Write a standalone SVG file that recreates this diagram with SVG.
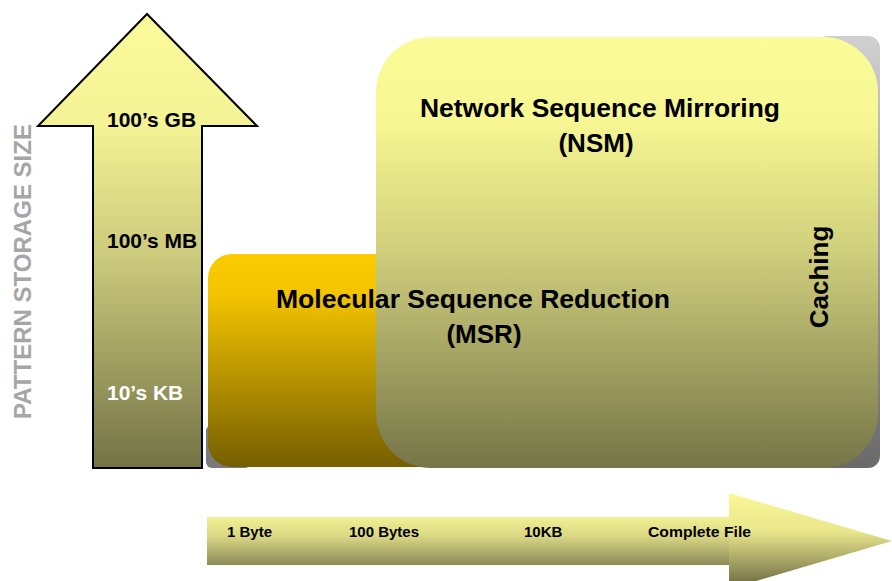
<svg xmlns="http://www.w3.org/2000/svg" width="892" height="581" viewBox="0 0 892 581">
<defs>
<linearGradient id="gV" x1="0" y1="14" x2="0" y2="468" gradientUnits="userSpaceOnUse">
<stop offset="0" stop-color="#FBFB9C"/>
<stop offset="0.25" stop-color="#F3F294"/>
<stop offset="0.55" stop-color="#C9C77A"/>
<stop offset="1" stop-color="#737346"/>
</linearGradient>
<linearGradient id="gMSR" x1="0" y1="0" x2="0" y2="1">
<stop offset="0" stop-color="#FBCB00"/>
<stop offset="0.2" stop-color="#F2C300"/>
<stop offset="1" stop-color="#755E00"/>
</linearGradient>
<linearGradient id="gNSM" x1="0" y1="37" x2="0" y2="468" gradientUnits="userSpaceOnUse">
<stop offset="0" stop-color="#FBFB98"/>
<stop offset="0.2" stop-color="#F6F692"/>
<stop offset="0.5" stop-color="#CFCE7C"/>
<stop offset="1" stop-color="#757548"/>
</linearGradient>
<linearGradient id="gShadow" x1="0" y1="0" x2="0" y2="1">
<stop offset="0" stop-color="#D0D0D0"/>
<stop offset="1" stop-color="#6A6A6A"/>
</linearGradient>
<linearGradient id="gShaft" x1="0" y1="0" x2="0" y2="1">
<stop offset="0" stop-color="#F2F093"/>
<stop offset="0.4" stop-color="#DAD884"/>
<stop offset="1" stop-color="#8C8A57"/>
</linearGradient>
<linearGradient id="gHead" x1="0" y1="0" x2="0" y2="1">
<stop offset="0" stop-color="#FBF898"/>
<stop offset="0.4" stop-color="#E9E68C"/>
<stop offset="1" stop-color="#67643F"/>
</linearGradient>
<style>
.t{font-family:"Liberation Sans",Arial,sans-serif;font-weight:bold;fill:#000}
.big{font-size:26px}
.ax{font-size:21px}
.sm{font-size:15px}
</style>
</defs>
<rect width="892" height="581" fill="#FFFFFF"/>

<g id="axis-title">
<text class="t" transform="translate(31,419) rotate(-90)" font-size="24" style="fill:#A6A6A6" textLength="295" lengthAdjust="spacingAndGlyphs">PATTERN STORAGE SIZE</text>
</g>

<g id="msr">
<rect x="206" y="425" width="45" height="43" rx="6" fill="#7A7A7A"/>
<rect x="208" y="254" width="420" height="213" rx="24" fill="url(#gMSR)"/>
</g>

<g id="nsm">
<rect x="815" y="36" width="65" height="432" rx="12" fill="url(#gShadow)"/>
<path d="M431,37 H823 A55,55 0 0 1 878,92 V413 A55,55 0 0 1 823,468 H431 A55,55 0 0 1 376,413 V92 A55,55 0 0 1 431,37 Z" fill="url(#gNSM)"/>
<text class="t big" x="600" y="117" text-anchor="middle" textLength="360" lengthAdjust="spacingAndGlyphs">Network Sequence Mirroring</text>
<text class="t big" x="596" y="152" text-anchor="middle">(NSM)</text>
<text class="t big" transform="translate(828,277) rotate(-90)" text-anchor="middle">Caching</text>
</g>

<g id="msr-label">
<text class="t big" x="473" y="308" text-anchor="middle" textLength="394" lengthAdjust="spacingAndGlyphs">Molecular Sequence Reduction</text>
<text class="t big" x="484" y="343" text-anchor="middle">(MSR)</text>
</g>

<g id="size-arrow">
<path d="M147,14 L257,126 L202,126 L202,468 L93,468 L93,126 L38,126 Z" fill="url(#gV)" stroke="#000" stroke-width="2" stroke-linejoin="miter"/>
<text class="t ax" x="107" y="127">100’s GB</text>
<text class="t ax" x="107" y="248">100’s MB</text>
<text class="t ax" x="107" y="400" style="fill:#FFFFFF">10’s KB</text>
</g>

<g id="granularity-arrow">
<rect x="207" y="517" width="523" height="48" fill="url(#gShaft)"/>
<polygon points="729,493 892,541 729,589" fill="url(#gHead)"/>
<text class="t sm" x="227" y="537">1 Byte</text>
<text class="t sm" x="349" y="537">100 Bytes</text>
<text class="t sm" x="524" y="537">10KB</text>
<text class="t sm" x="648" y="537" textLength="103" lengthAdjust="spacingAndGlyphs">Complete File</text>
</g>
</svg>
